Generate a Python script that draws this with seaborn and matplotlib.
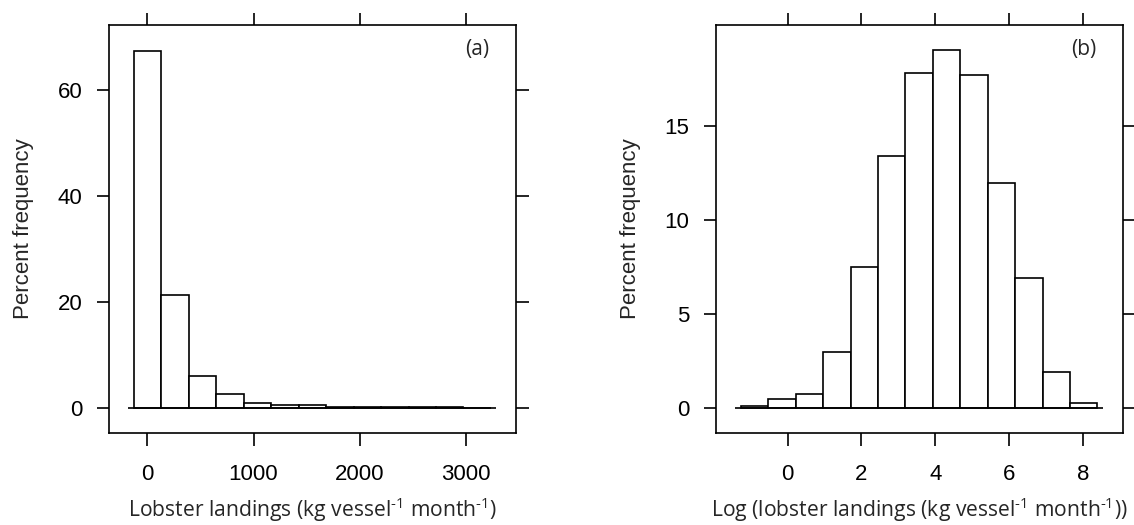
import numpy as np
import pandas as pd
import matplotlib
matplotlib.use("Agg")
import matplotlib.pyplot as plt
import seaborn as sns

# ---- data ----
# Panel (a): raw landings histogram (13 equal bins)
a_bin_start = -126.0
a_bin_width = 258.6
a_pct = [67.3, 21.3, 6.0, 2.6, 1.0, 0.6, 0.55, 0.25, 0.22, 0.2, 0.2, 0.15, 0.05]
a_xticks = [0, 1000, 2000, 3000]
a_yticks = [0, 20, 40, 60]
a_xlim = (-361, 3472)
a_ylim = (-4.7, 72.2)

# Panel (b): log landings histogram (13 equal bins)
b_bin_start = -1.266
b_bin_width = 0.743
b_pct = [0.09, 0.48, 0.76, 2.96, 7.48, 13.40, 17.80, 19.04, 17.70, 11.97, 6.90, 1.93, 0.28]
b_xticks = [0, 2, 4, 6, 8]
b_yticks = [0, 5, 10, 15]
b_xlim = (-1.95, 9.08)
b_ylim = (-1.33, 20.37)

xlabels = [r"Lobster landings (kg vessel$^{\text{-1}}$ month$^{\text{-1}}$)",
           r"Log (lobster landings (kg vessel$^{\text{-1}}$ month$^{\text{-1}}$))"]
panel_tags = ["(a)", "(b)"]
ylabel = "Percent frequency"

sns.set_style("white")
plt.rcParams["font.family"] = ["Liberation Sans", "DejaVu Sans"]
plt.rcParams["mathtext.fontset"] = "custom"
plt.rcParams["mathtext.rm"] = "Open Sans"
plt.rcParams["mathtext.it"] = "Open Sans:italic"
plt.rcParams["mathtext.bf"] = "Open Sans:bold"
plt.rcParams["mathtext.default"] = "rm"

fig = plt.figure(figsize=(11.34, 5.25), dpi=100)
W, H = 1134, 525
ax_a = fig.add_axes([109 / W, (525 - 433) / H, (516 - 109) / W, (433 - 25) / H])
ax_b = fig.add_axes([715.7 / W, (525 - 433) / H, (1122.7 - 715.7) / W, (433 - 25) / H])

panels = [
    (ax_a, a_bin_start, a_bin_width, a_pct, a_xticks, a_yticks, a_xlim, a_ylim),
    (ax_b, b_bin_start, b_bin_width, b_pct, b_xticks, b_yticks, b_xlim, b_ylim),
]

LW = 1.2
for i, (ax, start, width, pct, xt, yt, xl, yl) in enumerate(panels):
    n = len(pct)
    edges = start + width * np.arange(n + 1)
    centers = (edges[:-1] + edges[1:]) / 2
    df = pd.DataFrame({"x": centers, "pct": np.asarray(pct, dtype=float)})
    sns.barplot(data=df, x="x", y="pct", native_scale=True, width=1.0,
                color="white", edgecolor="black", linewidth=LW,
                errorbar=None, saturation=1, ax=ax)
    ax.hlines(0, edges[0] - 0.2 * width, edges[-1] + 0.2 * width,
              color="black", linewidth=LW, zorder=3)
    ax.set_xlim(*xl)
    ax.set_ylim(*yl)
    ax.set_xticks(xt)
    ax.set_xticklabels([str(v) for v in xt])
    ax.set_yticks(yt)
    ax.set_yticklabels([str(v) for v in yt])
    ax.tick_params(axis="both", which="both", direction="out", length=9,
                   width=LW, color="black", labelsize=16, labelcolor="black",
                   top=True, right=True, bottom=True, left=True,
                   labeltop=False, labelright=False)
    ax.tick_params(axis="x", pad=13)
    ax.tick_params(axis="y", pad=10)
    for sp in ax.spines.values():
        sp.set_visible(True)
        sp.set_color("black")
        sp.set_linewidth(LW)
    ax.set_xlabel(xlabels[i], fontsize=15.2, family="Open Sans", labelpad=8)
    ax.set_ylabel(ylabel, fontsize=16, labelpad=17)
    ax.text(0.935, 0.94, panel_tags[i], transform=ax.transAxes, ha="right",
            va="center", fontsize=15, family="Open Sans")
    ax.grid(False)

fig.savefig("out.png", dpi=100, facecolor="white")
